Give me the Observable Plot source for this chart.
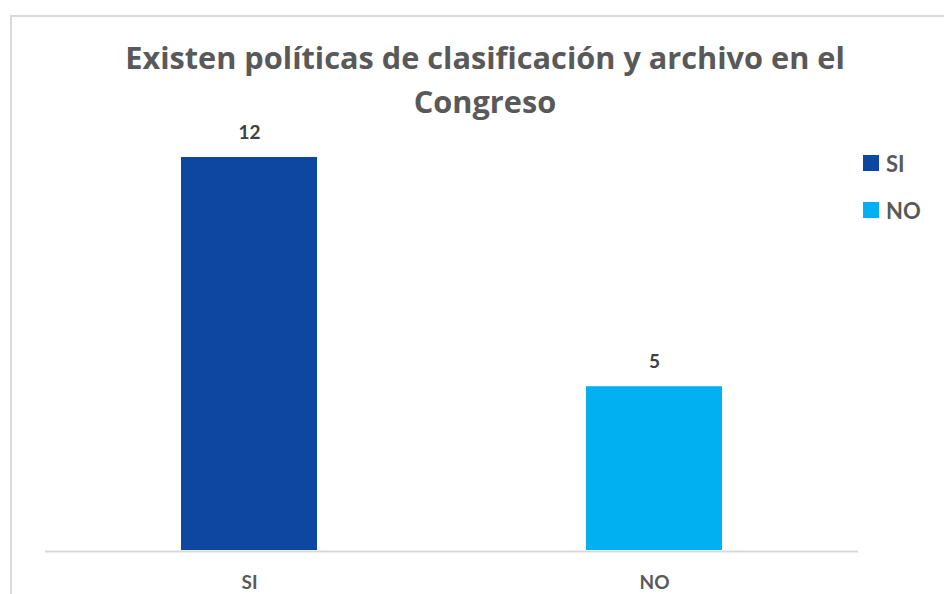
<!DOCTYPE html>
<html>
<head>
<meta charset="utf-8">
<script src="https://cdn.jsdelivr.net/npm/d3@7"></script>
<script src="https://cdn.jsdelivr.net/npm/@observablehq/plot@0.6"></script>
<style>
  html, body { margin: 0; padding: 0; background: #fff; }
  #wrap { position: relative; width: 944px; height: 594px; overflow: hidden; }
  #border { position: absolute; left: 10px; top: 15px; width: 960px; height: 600px;
            border-left: 2px solid #d9d9d9; border-top: 2px solid #d9d9d9; }
  #chart { position: absolute; left: 0; top: 0; }
  #legend { position: absolute; left: 863px; top: 150px; font-family: Lato, "Open Sans", sans-serif;
            font-weight: bold; font-size: 22px; color: #595959; }
  #legend .item { display: flex; align-items: center; height: 26px; margin-bottom: 21px; }
  #legend .sw { width: 16px; height: 16px; margin-right: 7px; }
</style>
</head>
<body>
<div id="wrap">
  <div id="border"></div>
  <div id="chart"></div>
  <div id="legend"></div>
</div>
<script>
const titleLines = ["Existen políticas de clasificación y archivo en el", "Congreso"];
const categories = ["SI", "NO"];
const values = [12, 5];
const colors = ["#0D47A1", "#00B0F0"];

const data = categories.map((c, i) => ({cat: c, value: values[i]}));
const font = "Lato, 'Open Sans', sans-serif";

const chart = Plot.plot({
  width: 944,
  height: 594,
  marginLeft: 45,
  marginRight: 86,
  marginTop: 157,
  marginBottom: 44,
  style: {fontFamily: font, background: "transparent"},
  x: {domain: categories, paddingInner: 0.665, paddingOuter: 0.335, label: null},
  y: {domain: [0, 12], axis: null},
  color: {domain: categories, range: colors},
  marks: [
    Plot.barY(data, {x: "cat", y: "value", fill: "cat"}),
    Plot.ruleY([0], {stroke: "#d9d9d9", strokeWidth: 2, dy: 1}),
    Plot.axisX({tickSize: 0, tickPadding: 25, fontSize: 19, fontWeight: "bold", fill: "#595959", label: null}),
    Plot.text(data, {x: "cat", y: "value", text: d => String(d.value), dy: -25, lineAnchor: "middle",
      fontSize: 19, fontWeight: "bold", fill: "#404040"}),
    Plot.text([titleLines.join("\n")], {frameAnchor: "top", dx: 33, dy: -45, lineAnchor: "bottom",
      lineHeight: 1.41, fontSize: 30.7, fontWeight: "bold", fill: "#595959", textAnchor: "middle",
      fontFamily: "'Open Sans', Lato, sans-serif"})
  ]
});
document.getElementById("chart").appendChild(chart);

const legend = d3.select("#legend");
categories.forEach((c, i) => {
  const it = legend.append("div").attr("class", "item");
  it.append("span").attr("class", "sw").style("background", colors[i]);
  it.append("span").text(c);
});
</script>
</body>
</html>
